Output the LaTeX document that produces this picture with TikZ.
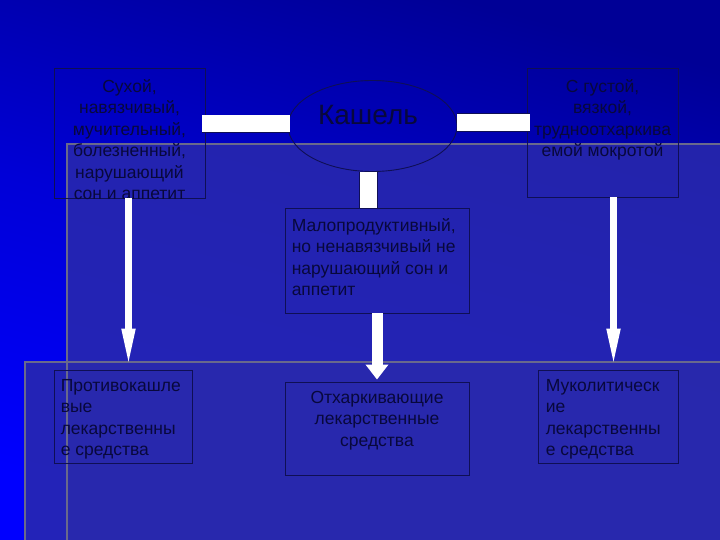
\documentclass[tikz,border=0pt]{standalone}
\usepackage{fontspec}
\setmainfont{Liberation Sans}
\usetikzlibrary{shapes.geometric,arrows.meta,calc}
\definecolor{bgdark}{RGB}{0,0,150}
\definecolor{bgmid}{RGB}{0,0,215}
\definecolor{bgbright}{RGB}{0,0,255}
\definecolor{ovl}{RGB}{42,42,172}
\definecolor{ovline}{RGB}{105,105,140}
\definecolor{ink}{RGB}{8,8,60}
\definecolor{edge}{RGB}{15,15,85}
\begin{document}
\begin{tikzpicture}[x=1pt,y=-1pt,
  box/.style={draw=edge, line width=0.9pt, rectangle, inner sep=0pt},
  oval/.style={draw=edge, line width=0.9pt, ellipse, inner sep=0pt},
  txt/.style={text=ink, font=\fontsize{17.5}{21.5}\selectfont, inner sep=0pt},
  bigtxt/.style={text=ink, font=\fontsize{28}{32}\selectfont, inner sep=0pt},
  bar/.style={draw=white, line width=17pt, preaction={draw=edge, line width=18.6pt}},
  thinarrow/.style={draw=white, line width=7pt, -{Triangle[width=12pt,length=41pt]}},
  widearrow/.style={draw=white, line width=11pt, -{Triangle[width=22pt,length=15pt]}},
  ovlline/.style={draw=ovline, line width=2.5pt}
]
\useasboundingbox (0,0) rectangle (720,540);
% background
\shade[top color=bgdark, bottom color=bgbright, middle color=bgmid, shading angle=-15] (0,0) rectangle (720,540);
\fill[ovl, opacity=0.85] (67,144) rectangle (720,540);
\fill[ovl, opacity=0.85] (25,362) rectangle (720,540);
\draw[ovlline] (25,540) -- (25,362) -- (720,362);
\draw[ovlline] (67,540) -- (67,144) -- (720,144);

% shapes
\node[box, minimum width=151pt, minimum height=130pt] (tl) at (129.5,133) {};
\node[box, minimum width=151pt, minimum height=129pt] (tr) at (602.5,132.5) {};
\node[oval, minimum width=169pt, minimum height=91pt] (ell) at (372.5,126) {};
\node[box, minimum width=184pt, minimum height=105pt] (mid) at (377,260.5) {};
\node[box, minimum width=138pt, minimum height=93pt] (bl) at (123,416.5) {};
\node[box, minimum width=184pt, minimum height=93pt] (bm) at (377,428.5) {};
\node[box, minimum width=140pt, minimum height=93pt] (br) at (608,416.5) {};

% texts
\node[txt, align=center, anchor=north] (tlt) at ([yshift=-9.5pt]tl.north)
  {\strut Сухой,\\навязчивый,\\мучительный,\\болезненный,\\нарушающий\\сон и аппетит};
\node[txt, align=center, anchor=north] (trt) at ([yshift=-9.5pt]tr.north)
  {\strut С густой,\\вязкой,\\трудноотхаркива\\емой мокротой};
\node[bigtxt, anchor=base] (kt) at (368,125) {Кашель};
\node[txt, align=left, anchor=north west] (midt) at ([xshift=7pt,yshift=-8.5pt]mid.north west)
  {\strut Малопродуктивный,\\но ненавязчивый не\\нарушающий сон и\\аппетит};
\node[txt, align=left, anchor=north west] (blt) at ([xshift=7pt,yshift=-6.5pt]bl.north west)
  {\strut Противокашле\\вые\\лекарственны\\е средства};
\node[txt, align=center, anchor=north] (bmt) at ([yshift=-6.5pt]bm.north)
  {\strut Отхаркивающие\\лекарственные\\средства};
\node[txt, align=left, anchor=north west] (brt) at ([xshift=8pt,yshift=-6.5pt]br.north west)
  {\strut Муколитическ\\ие\\лекарственны\\е средства};

% connectors
\coordinate (ylb) at (0,124);
\coordinate (yrb) at (0,122.5);
\draw[bar] ([xshift=-3pt]tl.east |- ylb) -- ([xshift=2pt]ell.west |- ylb);
\draw[bar] (ell.east |- yrb) -- ([xshift=3pt]tr.west |- yrb);
\draw[bar] ([xshift=-4pt]ell.south) -- ([xshift=-8.5pt]mid.north);
\draw[thinarrow] ([xshift=-1pt]tl.south) -- ([xshift=-1pt]tl.south |- bl.north);
\draw[thinarrow] ([xshift=11pt]tr.south) -- ([xshift=11pt]tr.south |- br.north);
\draw[widearrow] (mid.south) -- ([yshift=2pt]bm.north);
\end{tikzpicture}
\end{document}
